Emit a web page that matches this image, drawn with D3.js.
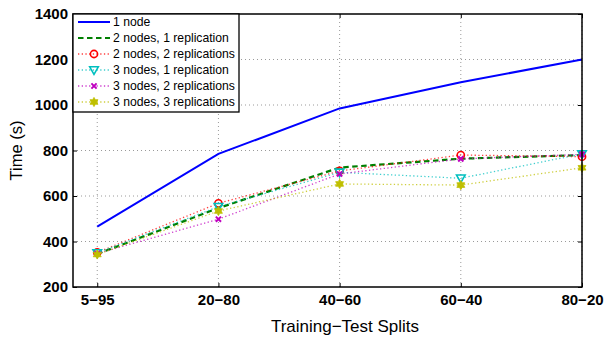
<!DOCTYPE html>
<html>
<head>
<meta charset="utf-8">
<script src="https://cdn.jsdelivr.net/npm/d3@7"></script>
<style>
  html, body { margin: 0; padding: 0; background: #fff; }
  svg { display: block; font-family: "Liberation Sans", Arial, sans-serif; }
</style>
</head>
<body>
<svg id="chart" width="604" height="338"></svg>
<script>
// Training/test split categories along the x axis
const splits = ["5\u221295", "20\u221280", "40\u221260", "60\u221240", "80\u221220"];
const yTicks = [200, 400, 600, 800, 1000, 1200, 1400];

// Run time (seconds) per configuration
const oneNode          = [465, 785, 985, 1100, 1200];
const twoNodesOneRep   = [345, 547, 725, 764, 780];
const twoNodesTwoReps  = [352, 568, 710, 780, 773];
const threeNodesOneRep = [350, 553, 704, 678, 785];
const threeNodesTwoReps = [347, 498, 697, 763, 783];
const threeNodesThreeReps = [343, 534, 653, 648, 724];

const seriesNames = [
  "1 node",
  "2 nodes, 1 replication",
  "2 nodes, 2 replications",
  "3 nodes, 1 replication",
  "3 nodes, 2 replications",
  "3 nodes, 3 replications"
];

const series = [
  { name: seriesNames[0], values: oneNode,            color: "#0000ff", width: 2,   dash: null,      marker: null },
  { name: seriesNames[1], values: twoNodesOneRep,     color: "#007f00", width: 2.2, dash: "5.5,3.5", marker: null },
  { name: seriesNames[2], values: twoNodesTwoReps,    color: "#ff0000", width: 1.3, dash: "1.3,2.4", marker: "circle" },
  { name: seriesNames[3], values: threeNodesOneRep,   color: "#00bfbf", width: 1.3, dash: "1.3,2.4", marker: "triangle" },
  { name: seriesNames[4], values: threeNodesTwoReps,  color: "#bf00bf", width: 1.3, dash: "1.3,2.4", marker: "cross" },
  { name: seriesNames[5], values: threeNodesThreeReps, color: "#bfbf00", width: 1.3, dash: "1.3,2.4", marker: "star" }
];

const svg = d3.select("#chart");
const plotLeft = 73, plotRight = 582, plotTop = 14, plotBottom = 287;

const x = d3.scaleLinear().domain([-0.2, 4]).range([plotLeft, plotRight]);
const y = d3.scaleLinear().domain([200, 1400]).range([plotBottom, plotTop]);

// Dotted grid
const grid = svg.append("g").attr("stroke", "#9a9a9a").attr("stroke-width", 1)
  .attr("stroke-dasharray", "1,3");
grid.selectAll("line.gy").data(yTicks.slice(1, -1)).join("line")
  .attr("x1", plotLeft).attr("x2", plotRight)
  .attr("y1", d => y(d)).attr("y2", d => y(d));
grid.selectAll("line.gx").data(d3.range(splits.length)).join("line")
  .attr("x1", d => x(d)).attr("x2", d => x(d))
  .attr("y1", plotTop).attr("y2", plotBottom);

// Axes with inward ticks
const tickFont = g => g.selectAll("text")
  .attr("font-size", 15).attr("font-weight", "bold").attr("fill", "#000")
  .attr("font-family", "'Liberation Sans', Arial, sans-serif");

svg.append("g").attr("transform", `translate(${plotLeft},0)`)
  .call(d3.axisLeft(y).tickValues(yTicks).tickFormat(d3.format("d"))
    .tickSizeInner(-4).tickSizeOuter(0).tickPadding(5))
  .call(tickFont);
svg.append("g").attr("transform", `translate(0,${plotBottom})`)
  .call(d3.axisBottom(x).tickValues(d3.range(splits.length)).tickFormat(i => splits[i])
    .tickSizeInner(-4).tickSizeOuter(0).tickPadding(7))
  .call(tickFont);
svg.append("g").attr("transform", `translate(${plotRight},0)`)
  .call(d3.axisRight(y).tickValues(yTicks).tickSizeInner(-4).tickSizeOuter(0).tickFormat(""));
svg.append("g").attr("transform", `translate(0,${plotTop})`)
  .call(d3.axisTop(x).tickValues(d3.range(splits.length)).tickSizeInner(-4).tickSizeOuter(0).tickFormat(""));
svg.selectAll(".domain").remove();

// Six-pointed star path centred on the origin
function hexagram(r) {
  const pts = [];
  for (let k = 0; k < 12; k++) {
    const a = -Math.PI / 2 + k * Math.PI / 6;
    const rr = k % 2 === 0 ? r : r * 0.58;
    pts.push([rr * Math.cos(a), rr * Math.sin(a)]);
  }
  return "M" + pts.map(p => p.join(",")).join("L") + "Z";
}

// Markers
function drawMarker(g, type, color) {
  if (type === "circle") {
    g.append("circle").attr("r", 3.6).attr("fill", "none").attr("stroke", color).attr("stroke-width", 1.6);
  } else if (type === "triangle") {
    g.append("path").attr("d", "M-4.3,-3.2L4.3,-3.2L0,4.3Z")
      .attr("fill", "none").attr("stroke", color).attr("stroke-width", 1.6);
  } else if (type === "cross") {
    g.append("path").attr("d", "M-2.6,-2.6L2.6,2.6M-2.6,2.6L2.6,-2.6")
      .attr("stroke", color).attr("stroke-width", 2);
  } else if (type === "star") {
    g.append("path").attr("d", hexagram(4.6))
      .attr("fill", color).attr("stroke", color).attr("stroke-width", 0.8);
  }
}

const line = d3.line().x((d, i) => x(i)).y(d => y(d));
const plot = svg.append("g");
series.forEach(s => {
  plot.append("path").datum(s.values)
    .attr("d", line).attr("fill", "none")
    .attr("stroke", s.color).attr("stroke-width", s.width)
    .attr("stroke-dasharray", s.dash)
    .attr("opacity", s.dash && s.marker ? 0.75 : 1);
  if (s.marker) {
    s.values.forEach((v, i) => {
      const g = plot.append("g").attr("transform", `translate(${x(i)},${y(v)})`);
      drawMarker(g, s.marker, s.color);
    });
  }
});

// Frame
svg.append("rect").attr("x", plotLeft).attr("y", plotTop)
  .attr("width", plotRight - plotLeft).attr("height", plotBottom - plotTop)
  .attr("fill", "none").attr("stroke", "#000").attr("stroke-width", 1.5);

// Legend
const lg = svg.append("g");
lg.append("rect").attr("x", plotLeft).attr("y", plotTop).attr("width", 166).attr("height", 98)
  .attr("fill", "#fff").attr("stroke", "#000").attr("stroke-width", 1.3);
series.forEach((s, i) => {
  const cy = 22 + i * 16;
  lg.append("line").attr("x1", 78).attr("x2", 110).attr("y1", cy).attr("y2", cy)
    .attr("stroke", s.color).attr("stroke-width", s.width)
    .attr("stroke-dasharray", s.dash)
    .attr("opacity", s.dash && s.marker ? 0.75 : 1);
  if (s.marker) drawMarker(lg.append("g").attr("transform", `translate(94,${cy})`), s.marker, s.color);
  lg.append("text").attr("x", 113).attr("y", cy).attr("dy", "0.35em")
    .attr("font-size", 12.2).attr("fill", "#000").text(s.name);
});

// Axis titles
svg.append("text").attr("transform", `translate(22,${(plotTop + plotBottom) / 2}) rotate(-90)`)
  .attr("text-anchor", "middle").attr("font-size", 16.5).text("Time (s)");
svg.append("text").attr("x", 345).attr("y", 332)
  .attr("text-anchor", "middle").attr("font-size", 17).text("Training\u2212Test Splits");
</script>
</body>
</html>
